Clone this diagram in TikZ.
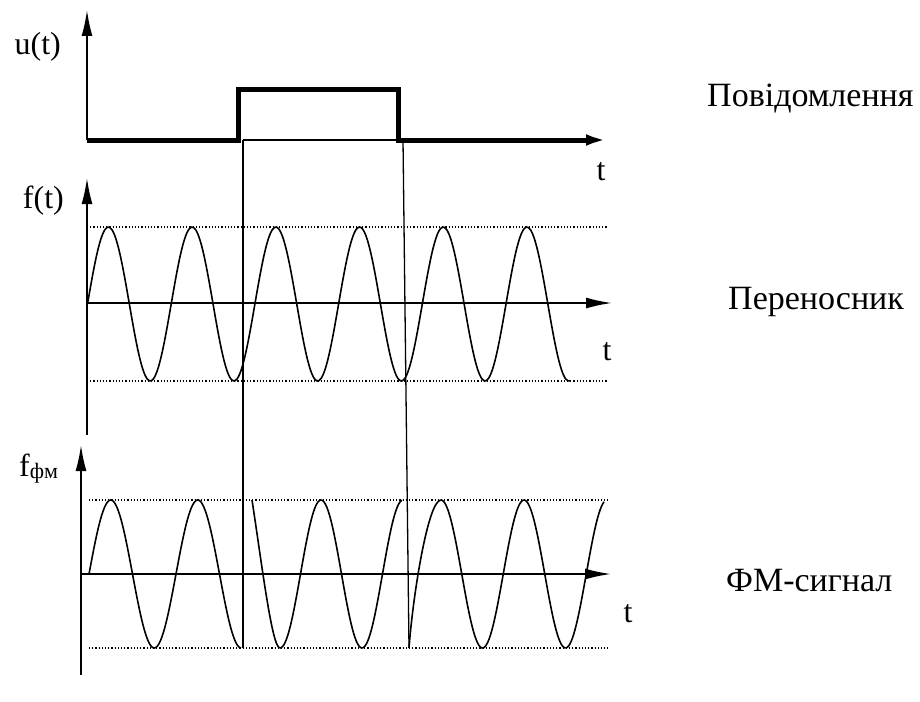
\documentclass[tikz,border=0pt]{standalone}
\usepackage{fontspec}
\setmainfont{Liberation Serif}
\usetikzlibrary{arrows.meta}
\tikzset{
  axis/.style={line width=1.8pt,-{Latex[length=26pt,width=11pt]}},
  pulse/.style={line width=5pt,-{Latex[length=26pt,width=11pt]}},
  wave/.style={line width=1.6pt,line join=round},
  guide/.style={line width=1.3pt},
  level/.style={line width=1.2pt,dotted},
  axlabel/.style={font=\fontsize{32}{36}\selectfont,inner sep=0pt},
  sidelabel/.style={font=\fontsize{34}{38}\selectfont,inner sep=0pt,anchor=base west},
}
\begin{document}
\begin{tikzpicture}[x=1pt,y=-1pt]
\useasboundingbox (0,0) rectangle (920,701);
% ---------- top panel: message ----------
\coordinate (uO) at (87,140);
\coordinate (uTop) at (87,10);
\draw[axis] (uO) -- (uTop);
\coordinate (p1) at (238,140);
\coordinate (p2) at (238,89);
\coordinate (p3) at (398,89);
\coordinate (p4) at (398,140);
\coordinate (uEnd) at (612,140);
\draw[pulse,line join=miter] (uO) -- (p1) -- (p2) -- (p3) -- (p4) -- (uEnd);
% thin guide lines
\coordinate (g1t) at (243,140);
\coordinate (g1b) at (243,648);
\coordinate (g2t) at (403,140);
\coordinate (g2b) at (409,648);
\draw[guide] (g1t) -- (g2t);
\draw[guide] (g1t) -- (g1b);
\draw[guide] (g2t) -- (g2b);
\node[axlabel,anchor=base east] (ulab) at (61,55) {u(t)};
\node[axlabel,anchor=base] (tlab1) at (601,180) {t};
\node[sidelabel] (msg) at (707,106) {Повідомлення};
% ---------- middle panel: carrier ----------
\coordinate (fO) at (87,435);
\coordinate (fTop) at (87,178);
\draw[axis] (fO) -- (fTop);
\coordinate (fA) at (87,303);
\coordinate (fAend) at (612,303);
\draw[axis] (fA) -- (fAend);
\coordinate (fh1) at (87,227);
\coordinate (fh1e) at (607,227);
\coordinate (fl1) at (87,381);
\coordinate (fl1e) at (607,381);
\draw[level] (fh1) -- (fh1e);
\draw[level] (fl1) -- (fl1e);
\draw[wave] plot[domain=87.5:570,samples=220,smooth] (\x,{304-77*sin((\x-87.5)*4.3011)});
\node[axlabel,anchor=base east] (flab) at (64,208) {f(t)};
\node[axlabel,anchor=base] (tlab2) at (607,360) {t};
\node[sidelabel] (car) at (728,309) {Переносник};
% ---------- bottom panel: PM signal ----------
\coordinate (sO) at (81,675);
\coordinate (sTop) at (81,445);
\draw[axis] (sO) -- (sTop);
\coordinate (sA) at (81,574);
\coordinate (sAend) at (611,574);
\draw[axis] (sA) -- (sAend);
\coordinate (sh1) at (89,500);
\coordinate (sh1e) at (608,500);
\coordinate (sl1) at (89,648);
\coordinate (sl1e) at (608,648);
\draw[level] (sh1) -- (sh1e);
\draw[level] (sl1) -- (sl1e);
\draw[wave] plot[domain=89:241,samples=120,smooth] (\x,{574-74*sin((\x-89)*4.1379)});
\coordinate (s2a) at (252,500);
\coordinate (s2b) at (280,648);
\draw[wave] (s2a) .. controls (262,565) and (272,648) .. (s2b);
\draw[wave] plot[domain=280:402,samples=100,smooth] (\x,{574+74*cos((\x-280)*4.3902)});
\coordinate (s3a) at (409,648);
\coordinate (s3b) at (441,500);
\draw[wave] (s3a) .. controls (413,595) and (428,500) .. (s3b);
\draw[wave] plot[domain=441:604,samples=130,smooth] (\x,{574-74*cos((\x-441)*4.3373)});
\node[axlabel,anchor=base west] (slab) at (19,476) {f\raisebox{-0.2ex}{\fontsize{22}{24}\selectfont фм}};
\node[axlabel,anchor=base] (tlab3) at (628,622) {t};
\node[sidelabel] (pm) at (726,591) {ФМ-сигнал};
\end{tikzpicture}
\end{document}
